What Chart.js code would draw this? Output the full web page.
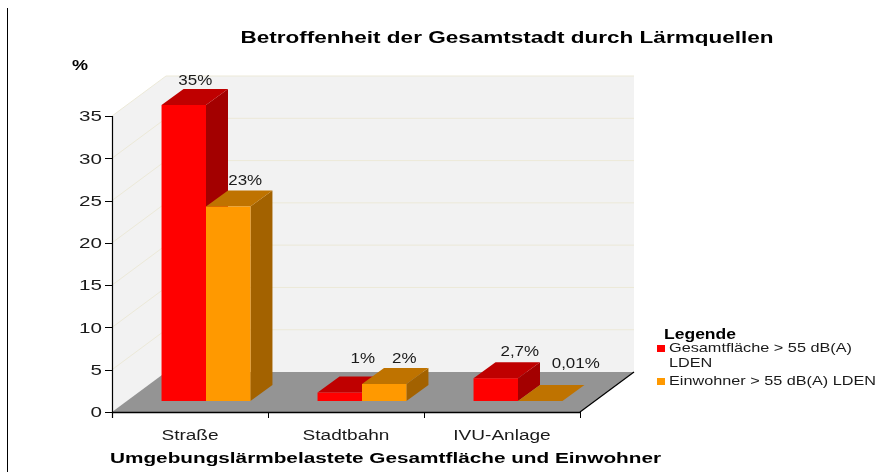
<!DOCTYPE html>
<html lang="de">
<head>
<meta charset="utf-8">
<title>Betroffenheit der Gesamtstadt durch Lärmquellen</title>
<script src="https://cdn.jsdelivr.net/npm/chart.js@4"></script>
<style>
html,body{margin:0;padding:0;background:#fff;width:878px;height:472px;overflow:hidden}
#wrap{position:absolute;left:0;top:0;width:878px;height:472px}
#c{filter:blur(0.4px)}
</style>
</head>
<body>
<div id="wrap"><canvas id="c" width="878" height="472"></canvas></div>
<script>
const categories = ["Straße", "Stadtbahn", "IVU-Anlage"];
const gesamtflaeche = [35, 1, 2.7];
const einwohner = [23, 2, 0.01];
const gesamtLabels = ["35%", "1%", "2,7%"];
const einwohnerLabels = ["23%", "2%", "0,01%"];
const seriesNames = ["Gesamtfläche > 55 dB(A)", "Einwohner > 55 dB(A) LDEN"];
const chartTitle = "Betroffenheit der Gesamtstadt durch Lärmquellen";
const xTitle = "Umgebungslärmbelastete Gesamtfläche und Einwohner";
const yTitle = "%";
const legendTitle = "Legende";

const BLACK = "#000000", TXT = "#1a1a1a";
const SANS = '"Liberation Sans", Arial, sans-serif';
const WALL = {dx: 54, dy: -40};          // depth of the box
const BAR_SHIFT = {dx: 16, dy: -11};     // bars stand inside the box
const BAR_DEPTH = {dx: 22, dy: -16};
const SHADES = [
  {top: "#BF0000", side: "#A30000"},
  {top: "#BF7300", side: "#A36200"}
];
const LABEL_OFFSETS = [
  [[11.5, -24], [23, -33], [24, -26]],
  [[17, -25], [20, -25], [35.5, -37]]
];
const LABEL_TEXTS = [gesamtLabels, einwohnerLabels];

function text(ctx, s, x, y, font, color, sx, align) {
  ctx.save();
  ctx.font = font;
  ctx.fillStyle = color;
  ctx.textBaseline = "middle";
  ctx.textAlign = align || "center";
  ctx.translate(x, y);
  ctx.scale(sx, 1);
  ctx.fillText(s, 0, 0);
  ctx.restore();
}
function fit(ctx, s, x, y, font, color, width, align) {
  ctx.save();
  ctx.font = font;
  const w = ctx.measureText(s).width;
  ctx.restore();
  text(ctx, s, x, y, font, color, width / w, align);
}
function poly(ctx, pts, fill) {
  ctx.beginPath();
  pts.forEach((p, i) => i ? ctx.lineTo(p[0], p[1]) : ctx.moveTo(p[0], p[1]));
  ctx.closePath();
  ctx.fillStyle = fill;
  ctx.fill();
}
function line(ctx, x1, y1, x2, y2, color, w) {
  ctx.beginPath();
  ctx.moveTo(x1, y1);
  ctx.lineTo(x2, y2);
  ctx.strokeStyle = color;
  ctx.lineWidth = w;
  ctx.stroke();
}

const box3d = {
  id: "box3d",
  beforeDatasetsDraw(chart) {
    const {ctx, chartArea: a, scales: {x, y}} = chart;
    const L = a.left, R = a.right, T = y.getPixelForValue(35), B = y.getPixelForValue(0);
    const d = WALL;
    // frame line at the page's left edge
    line(ctx, 7.5, 8, 7.5, 472, BLACK, 1);
    // walls and floor
    poly(ctx, [[L + d.dx, T + d.dy], [R + d.dx, T + d.dy], [R + d.dx, B + d.dy], [L + d.dx, B + d.dy]], "#F2F2F2");
    poly(ctx, [[L, T], [L + d.dx, T + d.dy], [L + d.dx, B + d.dy], [L, B]], "#F2F2F2");
    poly(ctx, [[L, B], [L + d.dx, B + d.dy], [R + d.dx, B + d.dy], [R, B]], "#949494");
    // gridlines
    y.ticks.forEach(t => {
      if (t.value === 0) return;
      const p = y.getPixelForValue(t.value);
      line(ctx, L, p, L + d.dx, p + d.dy, "#ECE9D8", 1);
      line(ctx, L + d.dx, p + d.dy, R + d.dx, p + d.dy, "#ECE9D8", 1);
    });
    // axes
    line(ctx, L + .5, T, L + .5, B + 6, "#000", 1.2);
    line(ctx, L, B + .5, R, B + .5, "#000", 1.5);
    line(ctx, R, B, R + d.dx, B + d.dy, "#000", 1.2);
    y.ticks.forEach(t => {
      const p = Math.round(y.getPixelForValue(t.value)) + .5;
      line(ctx, L - 7, p, L, p, "#000", 1);
    });
    for (let i = 0; i <= categories.length; i++) {
      const px = Math.round(L + (R - L) * i / categories.length) + .5;
      line(ctx, px, B, px, B + 6, "#000", 1);
    }
  },
  // the library's own draw order is back to front by dataset; the 3D look needs left to right
  beforeDatasetDraw() {
    return false;
  },
  afterDatasetsDraw(chart) {
    const {ctx} = chart;
    const d = BAR_DEPTH;
    [0, 1].forEach(ds => {
      const meta = chart.getDatasetMeta(ds);
      const sh = SHADES[ds];
      ctx.save();
      ctx.translate(BAR_SHIFT.dx, BAR_SHIFT.dy);
      meta.data.forEach(b => {
        const l = b.x - b.width / 2, r = b.x + b.width / 2, top = b.y, base = b.base;
        poly(ctx, [[r, top], [r + d.dx, top + d.dy], [r + d.dx, base + d.dy], [r, base]], sh.side);
        poly(ctx, [[l, top], [l + d.dx, top + d.dy], [r + d.dx, top + d.dy], [r, top]], sh.top);
      });
      meta.controller.draw();
      ctx.restore();
    });
  },
  afterDraw(chart) {
    const {ctx, chartArea: a, scales: {x, y}} = chart;
    // y tick labels
    y.ticks.forEach(t => {
      text(ctx, String(t.value), a.left - 10, y.getPixelForValue(t.value) + 1, "15.5px " + SANS, TXT, 1.33, "right");
    });
    text(ctx, yTitle, 80, 66, "bold 15px " + SANS, BLACK, 1.2);
    // x category labels
    categories.forEach((c, i) => {
      text(ctx, c, x.getPixelForValue(i), 436, "14px " + SANS, TXT, 1.36);
    });
    fit(ctx, xTitle, 385.5, 459, "bold 15px " + SANS, BLACK, 551);
    fit(ctx, chartTitle, 507, 38.5, "bold 16px " + SANS, BLACK, 533);
    // data labels
    [0, 1].forEach(ds => {
      chart.getDatasetMeta(ds).data.forEach((b, i) => {
        const o = LABEL_OFFSETS[ds][i];
        text(ctx, LABEL_TEXTS[ds][i], b.x + BAR_SHIFT.dx + o[0], b.y + BAR_SHIFT.dy + o[1],
             "14px " + SANS, TXT, 1.21);
      });
    });
    // legend
    fit(ctx, legendTitle, 664, 335, "bold 15px " + SANS, BLACK, 72, "left");
    ctx.fillStyle = chart.data.datasets[0].backgroundColor;
    ctx.fillRect(657, 345, 8, 7);
    fit(ctx, seriesNames[0], 669, 348.5, "13px " + SANS, TXT, 183, "left");
    text(ctx, "LDEN", 669, 363.5, "13px " + SANS, TXT, 1.25, "left");
    ctx.fillStyle = chart.data.datasets[1].backgroundColor;
    ctx.fillRect(657, 378, 8, 7);
    fit(ctx, seriesNames[1], 669, 381.5, "13px " + SANS, TXT, 207, "left");
  }
};

new Chart(document.getElementById("c"), {
  type: "bar",
  data: {
    labels: categories,
    datasets: [
      {label: seriesNames[0] + " LDEN", data: gesamtflaeche, backgroundColor: "#FF0000", clip: false,
       categoryPercentage: 0.57, barPercentage: 1},
      {label: seriesNames[1], data: einwohner, backgroundColor: "#FF9900", clip: false,
       categoryPercentage: 0.57, barPercentage: 1}
    ]
  },
  options: {
    responsive: false,
    animation: false,
    layout: {padding: {left: 112, right: 298, top: 116, bottom: 60}},
    plugins: {legend: {display: false}, title: {display: false}, tooltip: {enabled: false}},
    scales: {
      x: {grid: {display: false, drawTicks: false, tickLength: 0}, border: {display: false}, ticks: {display: false}},
      y: {min: 0, max: 35, grid: {display: false, drawTicks: false, tickLength: 0}, border: {display: false},
          ticks: {display: false, stepSize: 5}}
    }
  },
  plugins: [box3d]
});
</script>
</body>
</html>
